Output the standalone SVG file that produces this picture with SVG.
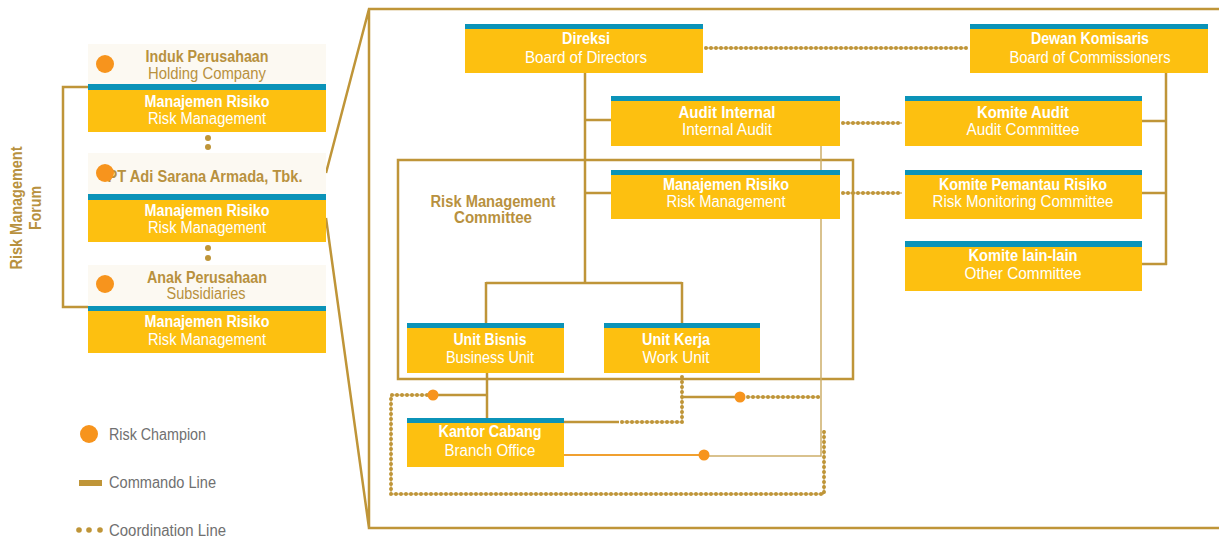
<svg xmlns="http://www.w3.org/2000/svg" width="1219" height="539" viewBox="0 0 1219 539">
<style>
text{font-family:"Liberation Sans",Arial,sans-serif;font-size:16px;text-anchor:middle}
.b{font-weight:700}
.w{fill:#ffffff}
.g{fill:#B8913E}
.lg{fill:#707070;text-anchor:start}
.yel{fill:#FDC010}
.blu{fill:#0B93B8}
.lt{fill:#FCF9F2}
.cmd{fill:none;stroke:#BF9538;stroke-width:2.5}
.thin{fill:none;stroke:#CDAE6A;stroke-width:1.5}
.crd{fill:none;stroke:#BF9538;stroke-width:4;stroke-linecap:round;stroke-dasharray:0 5}
.crdl{fill:none;stroke:#BF9538;stroke-width:1}
.rc{fill:#F7941D}
.frame{fill:none;stroke:#BF9538;stroke-width:2.5}
</style>
<rect width="1219" height="539" fill="#ffffff"/>

<g id="frame">
<path class="frame" d="M326,173 L369,9 L1219,9 M369,9 L369,528 L1219,528 M326,218 L369,528"/>
</g>

<g id="forum">
<path class="cmd" d="M88,87 H63 V307 H88"/>
<text class="b g" transform="translate(22,208) rotate(-90)" textLength="123" lengthAdjust="spacingAndGlyphs">Risk Management</text>
<text class="b g" transform="translate(41,208) rotate(-90)" textLength="44" lengthAdjust="spacingAndGlyphs">Forum</text>
</g>

<g id="left-dots" fill="#BF9538">
<circle cx="208" cy="138" r="3"/><circle cx="208" cy="147" r="3"/>
<circle cx="208" cy="248" r="3"/><circle cx="208" cy="258" r="3"/>
</g>

<g id="holding">
<rect class="lt" x="88" y="44" width="238" height="40"/>
<rect class="blu" x="88" y="84" width="238" height="6"/>
<rect class="yel" x="88" y="90" width="238" height="42"/>
<circle class="rc" cx="105" cy="64" r="9"/>
<text class="b g" x="207" y="61.5" textLength="123" lengthAdjust="spacingAndGlyphs">Induk Perusahaan</text>
<text class="g" x="207" y="79" textLength="118" lengthAdjust="spacingAndGlyphs">Holding Company</text>
<text class="b w" x="207" y="106.5" textLength="125" lengthAdjust="spacingAndGlyphs">Manajemen Risiko</text>
<text class="w" x="207" y="124" textLength="118" lengthAdjust="spacingAndGlyphs">Risk Management</text>
</g>

<g id="pt-asa">
<rect class="lt" x="88" y="153" width="238" height="41"/>
<rect class="blu" x="88" y="194" width="238" height="6"/>
<rect class="yel" x="88" y="200" width="238" height="42"/>
<text class="b g" x="205" y="181.5" textLength="195" lengthAdjust="spacingAndGlyphs">PT Adi Sarana Armada, Tbk.</text>
<circle class="rc" cx="105" cy="173" r="9"/>
<text class="b w" x="207" y="216" textLength="125" lengthAdjust="spacingAndGlyphs">Manajemen Risiko</text>
<text class="w" x="207" y="233" textLength="118" lengthAdjust="spacingAndGlyphs">Risk Management</text>
</g>

<g id="subsidiaries">
<rect class="lt" x="88" y="265" width="238" height="41"/>
<rect class="blu" x="88" y="306" width="238" height="5"/>
<rect class="yel" x="88" y="311" width="238" height="42"/>
<circle class="rc" cx="105" cy="284" r="9"/>
<text class="b g" x="207" y="282.5" textLength="120" lengthAdjust="spacingAndGlyphs">Anak Perusahaan</text>
<text class="g" x="206" y="299" textLength="79" lengthAdjust="spacingAndGlyphs">Subsidiaries</text>
<text class="b w" x="207" y="327" textLength="125" lengthAdjust="spacingAndGlyphs">Manajemen Risiko</text>
<text class="w" x="207" y="344.5" textLength="118" lengthAdjust="spacingAndGlyphs">Risk Management</text>
</g>

<g id="legend">
<circle class="rc" cx="89" cy="434" r="9"/>
<text class="lg" x="109" y="440" textLength="97" lengthAdjust="spacingAndGlyphs">Risk Champion</text>
<rect x="79" y="480" width="23" height="6" fill="#BF9538"/>
<text class="lg" x="109" y="487.5" textLength="107" lengthAdjust="spacingAndGlyphs">Commando Line</text>
<g fill="#BF9538"><circle cx="79" cy="530" r="2.8"/><circle cx="89" cy="530" r="2.8"/><circle cx="100" cy="530" r="2.8"/></g>
<text class="lg" x="109" y="535.5" textLength="117" lengthAdjust="spacingAndGlyphs">Coordination Line</text>
</g>

<g id="rmc">
<rect class="cmd" x="398" y="160" width="455" height="219"/>
<text class="b g" x="493" y="207" textLength="125" lengthAdjust="spacingAndGlyphs">Risk Management</text>
<text class="b g" x="493" y="223" textLength="78" lengthAdjust="spacingAndGlyphs">Committee</text>
</g>

<g id="connectors">
<path class="thin" d="M821,146 V456 H709"/>
<path class="cmd" d="M585,73 V283 M585,120 H611 M585,193 H611 M486,283 H682 M486,282 V323 M682,282 V323"/>
<path class="cmd" d="M1166,73 V265 M1142,121 H1167 M1142,193 H1167 M1142,264 H1167"/>
<path class="crdl" d="M706,48 H967 M843,123 H902 M843,193 H902 M427,395 H391 V494 H824 V430 M622,422 H682 V376 M748,397 H820"/>
<path class="crd" d="M706,48 H967"/>
<path class="crd" d="M843,123 H902"/>
<path class="crd" d="M843,193 H902"/>
<path class="cmd" d="M487,373 V418"/>
<path class="cmd" d="M438,395 H487" stroke-width="2"/>
<path class="crd" d="M427,395 H391 V494 H824 V430"/>
<path class="cmd" d="M564,422 H619" stroke-width="2"/>
<path class="crd" d="M622,422 H682 V376"/>
<path class="cmd" d="M682,397 H735" stroke-width="2"/>
<path class="crd" d="M748,397 H820"/>
<path d="M564,455 H699" fill="none" stroke="#F0A030" stroke-width="2"/>
<circle class="rc" cx="433" cy="395" r="5.5"/>
<circle class="rc" cx="740" cy="397" r="5.5"/>
<circle class="rc" cx="704" cy="455" r="5.5"/>
</g>

<g id="direksi">
<rect class="blu" x="465" y="24" width="238" height="5"/>
<rect class="yel" x="465" y="29" width="238" height="44"/>
<text class="b w" x="586" y="44" textLength="48" lengthAdjust="spacingAndGlyphs">Direksi</text>
<text class="w" x="586" y="62.5" textLength="122" lengthAdjust="spacingAndGlyphs">Board of Directors</text>
</g>

<g id="dewan-komisaris">
<rect class="blu" x="970" y="24" width="238" height="5"/>
<rect class="yel" x="970" y="29" width="238" height="44"/>
<text class="b w" x="1090" y="44" textLength="118" lengthAdjust="spacingAndGlyphs">Dewan Komisaris</text>
<text class="w" x="1090" y="62.5" textLength="161" lengthAdjust="spacingAndGlyphs">Board of Commissioners</text>
</g>

<g id="audit-internal">
<rect class="blu" x="611" y="96" width="229" height="5"/>
<rect class="yel" x="611" y="101" width="229" height="45"/>
<text class="b w" x="727" y="118" textLength="97" lengthAdjust="spacingAndGlyphs">Audit Internal</text>
<text class="w" x="727" y="135" textLength="90" lengthAdjust="spacingAndGlyphs">Internal Audit</text>
</g>

<g id="manajemen-risiko">
<rect class="blu" x="611" y="170" width="229" height="5"/>
<rect class="yel" x="611" y="175" width="229" height="44"/>
<text class="b w" x="726" y="190" textLength="126" lengthAdjust="spacingAndGlyphs">Manajemen Risiko</text>
<text class="w" x="726" y="207" textLength="119" lengthAdjust="spacingAndGlyphs">Risk Management</text>
</g>

<g id="komite-audit">
<rect class="blu" x="905" y="96" width="237" height="5"/>
<rect class="yel" x="905" y="101" width="237" height="45"/>
<text class="b w" x="1023" y="118" textLength="92" lengthAdjust="spacingAndGlyphs">Komite Audit</text>
<text class="w" x="1023" y="135" textLength="113" lengthAdjust="spacingAndGlyphs">Audit Committee</text>
</g>

<g id="komite-pemantau-risiko">
<rect class="blu" x="905" y="170" width="237" height="5"/>
<rect class="yel" x="905" y="175" width="237" height="44"/>
<text class="b w" x="1023" y="190" textLength="168" lengthAdjust="spacingAndGlyphs">Komite Pemantau Risiko</text>
<text class="w" x="1023" y="207" textLength="181" lengthAdjust="spacingAndGlyphs">Risk Monitoring Committee</text>
</g>

<g id="komite-lain">
<rect class="blu" x="905" y="241" width="237" height="6"/>
<rect class="yel" x="905" y="247" width="237" height="44"/>
<text class="b w" x="1023" y="261" textLength="109" lengthAdjust="spacingAndGlyphs">Komite lain-lain</text>
<text class="w" x="1023" y="279" textLength="117" lengthAdjust="spacingAndGlyphs">Other Committee</text>
</g>

<g id="unit-bisnis">
<rect class="blu" x="407" y="323" width="157" height="5"/>
<rect class="yel" x="407" y="328" width="157" height="45"/>
<text class="b w" x="490" y="345" textLength="73" lengthAdjust="spacingAndGlyphs">Unit Bisnis</text>
<text class="w" x="490" y="362.5" textLength="88" lengthAdjust="spacingAndGlyphs">Business Unit</text>
</g>

<g id="unit-kerja">
<rect class="blu" x="604" y="323" width="156" height="5"/>
<rect class="yel" x="604" y="328" width="156" height="45"/>
<text class="b w" x="676" y="345" textLength="68" lengthAdjust="spacingAndGlyphs">Unit Kerja</text>
<text class="w" x="676" y="362.5" textLength="67" lengthAdjust="spacingAndGlyphs">Work Unit</text>
</g>

<g id="kantor-cabang">
<rect class="blu" x="407" y="418" width="157" height="5"/>
<rect class="yel" x="407" y="423" width="157" height="44"/>
<text class="b w" x="490" y="437" textLength="103" lengthAdjust="spacingAndGlyphs">Kantor Cabang</text>
<text class="w" x="490" y="455.5" textLength="91" lengthAdjust="spacingAndGlyphs">Branch Office</text>
</g>
</svg>
